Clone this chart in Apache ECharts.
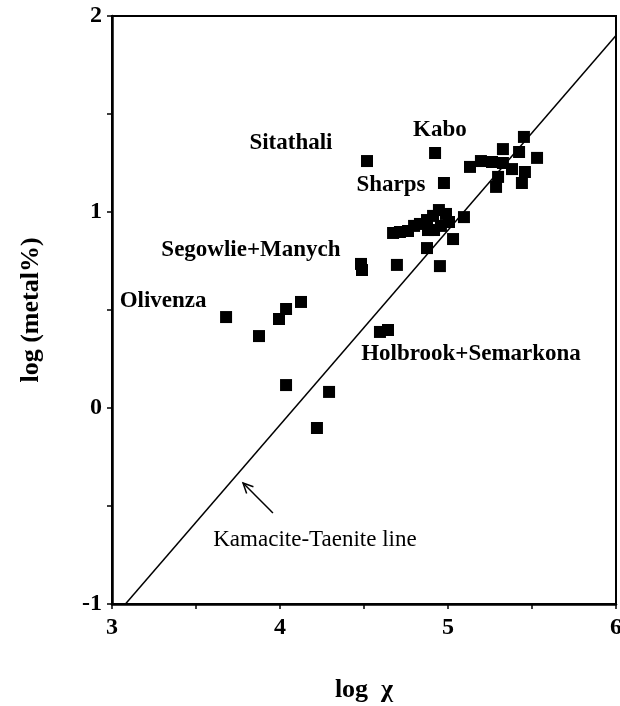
<!DOCTYPE html>
<html>
<head>
<meta charset="utf-8">
<script src="https://cdn.jsdelivr.net/npm/echarts@6/dist/echarts.min.js"></script>
<style>
  html, body { margin: 0; padding: 0; background: #fff; }
  #chart { width: 620px; height: 706px; }
</style>
</head>
<body>
<div id="chart"></div>
<script>
// Chondrite samples: log χ (magnetic susceptibility) vs log (metal%)
const logChi = [
  4.518, 4.923, 4.976, 5.452, 5.327, 5.423, 5.530, 5.131, 5.196, 5.262,
  5.327, 5.381, 5.458, 5.298, 5.286, 5.440,
  4.673, 4.714, 4.762, 4.798, 4.833, 4.875, 4.911, 4.946, 4.988, 5.006,
  4.958, 4.917, 4.881, 5.030, 5.095, 4.875, 4.696, 4.952,
  4.482, 4.488, 4.595, 4.643,
  3.679, 3.875, 3.994, 4.036, 4.125, 4.036, 4.292, 4.220
];
const logMetal = [
  1.260, 1.301, 1.148, 1.383, 1.321, 1.306, 1.276, 1.230, 1.260, 1.255,
  1.250, 1.219, 1.204, 1.179, 1.128, 1.148,
  0.893, 0.898, 0.903, 0.929, 0.939, 0.959, 0.980, 1.010, 0.990, 0.949,
  0.929, 0.908, 0.908, 0.862, 0.974, 0.816, 0.730, 0.724,
  0.735, 0.704, 0.388, 0.398,
  0.464, 0.367, 0.454, 0.505, 0.541, 0.117, 0.082, -0.102
];

// Kamacite-Taenite reference line (end points)
const ktLineX = [3.08, 6.0];
const ktLineY = [-1.0, 1.9];

// Named meteorites and their label anchors
const sampleNames = ['Sitathali', 'Kabo', 'Sharps', 'Segowlie+Manych', 'Olivenza', 'Holbrook+Semarkona'];
const nameX = [4.065, 4.952, 4.661, 3.827, 3.304, 5.137];
const nameY = [1.352, 1.418, 1.138, 0.806, 0.546, 0.276];

// Caption for the reference line, with its pointer arrow
const lineCaption = 'Kamacite-Taenite line';
const captionAt = [4.208, -0.673];
const arrowFrom = [3.958, -0.536];
const arrowTo = [3.780, -0.383];

// Axis ranges and tick spacing
const xMin = 3, xMax = 6, yMin = -1, yMax = 2, tickStep = 0.5;

const serif = '"Liberation Serif", "Times New Roman", serif';
const chart = echarts.init(document.getElementById('chart'));

const points = logChi.map((x, i) => [x, logMetal[i]]);
const names = sampleNames.map((n, i) => [nameX[i], nameY[i], n]);

const intLabel = v => (Math.abs(v - Math.round(v)) < 1e-9 ? String(Math.round(v)) : '');

chart.setOption({
  animation: false,
  backgroundColor: '#ffffff',
  grid: {
    left: 112, right: 4, top: 16, bottom: 102,
    outerBoundsMode: 'none', containLabel: false,
    show: true, borderColor: '#000', borderWidth: 2, backgroundColor: 'transparent'
  },
  xAxis: {
    type: 'value', min: xMin, max: xMax, interval: tickStep,
    name: 'log  χ', nameLocation: 'middle', nameGap: 73,
    nameTextStyle: { fontFamily: serif, fontWeight: 'bold', fontSize: 26, color: '#000' },
    axisLine: { onZero: false, lineStyle: { color: '#000', width: 2.5 } },
    axisTick: { show: true, length: 5, inside: false, lineStyle: { color: '#000', width: 1.5 } },
    axisLabel: { formatter: intLabel, margin: 12, fontFamily: serif, fontWeight: 'bold', fontSize: 24, color: '#000' },
    splitLine: { show: false }
  },
  yAxis: {
    type: 'value', min: yMin, max: yMax, interval: tickStep,
    name: 'log (metal%)', nameLocation: 'middle', nameGap: 68,
    nameTextStyle: { fontFamily: serif, fontWeight: 'bold', fontSize: 26, color: '#000' },
    axisLine: { onZero: false, lineStyle: { color: '#000', width: 2.5 } },
    axisTick: { show: true, length: 5, inside: false, lineStyle: { color: '#000', width: 1.5 } },
    axisLabel: { formatter: intLabel, margin: 10, fontFamily: serif, fontWeight: 'bold', fontSize: 24, color: '#000' },
    splitLine: { show: false }
  },
  series: [
    {
      name: 'Kamacite-Taenite line',
      type: 'line',
      data: ktLineX.map((x, i) => [x, ktLineY[i]]),
      symbol: 'none',
      lineStyle: { color: '#000', width: 1.5 },
      silent: true, z: 2
    },
    {
      name: 'samples',
      type: 'scatter',
      data: points,
      symbol: 'rect',
      symbolSize: 12,
      itemStyle: { color: '#000', opacity: 1 },
      z: 3
    },
    {
      name: 'sample names',
      type: 'scatter',
      data: names,
      symbolSize: 0,
      silent: true,
      itemStyle: { opacity: 1 },
      label: {
        show: true, position: 'inside',
        formatter: p => p.data[2],
        fontFamily: serif, fontWeight: 'bold', fontSize: 23, color: '#000', opacity: 1
      },
      z: 4
    },
    {
      name: 'caption',
      type: 'scatter',
      data: [[captionAt[0], captionAt[1], lineCaption]],
      symbolSize: 0,
      silent: true,
      itemStyle: { opacity: 1 },
      label: {
        show: true, position: 'inside',
        formatter: p => p.data[2],
        fontFamily: serif, fontSize: 23, color: '#000', opacity: 1
      },
      z: 4
    },
    {
      name: 'pointer',
      type: 'custom',
      data: [[arrowFrom[0], arrowFrom[1], arrowTo[0], arrowTo[1]]],
      silent: true,
      renderItem: (params, api) => {
        const a = api.coord([api.value(0), api.value(1)]);
        const b = api.coord([api.value(2), api.value(3)]);
        const ang = Math.atan2(a[1] - b[1], a[0] - b[0]);
        const head = 11, spread = 0.45;
        const h1 = [b[0] + head * Math.cos(ang + spread), b[1] + head * Math.sin(ang + spread)];
        const h2 = [b[0] + head * Math.cos(ang - spread), b[1] + head * Math.sin(ang - spread)];
        const style = { stroke: '#000', lineWidth: 1.5, fill: null };
        return {
          type: 'group',
          children: [
            { type: 'line', shape: { x1: a[0], y1: a[1], x2: b[0], y2: b[1] }, style },
            { type: 'polyline', shape: { points: [h1, b, h2] }, style }
          ]
        };
      },
      z: 4
    }
  ]
});
</script>
</body>
</html>
